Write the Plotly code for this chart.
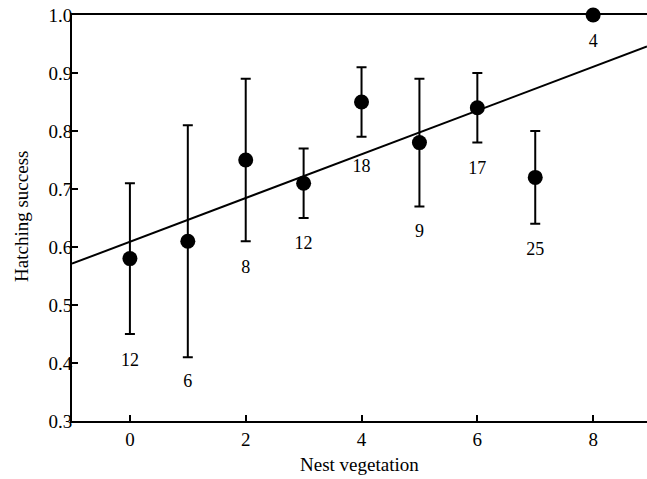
import plotly.graph_objects as go

veg = [0, 1, 2, 3, 4, 5, 6, 7, 8]
success = [0.58, 0.61, 0.75, 0.71, 0.85, 0.78, 0.84, 0.72, 1.00]
upper = [0.71, 0.81, 0.89, 0.77, 0.91, 0.89, 0.90, 0.80, 1.00]
lower = [0.45, 0.41, 0.61, 0.65, 0.79, 0.67, 0.78, 0.64, 1.00]
n_labels = ["12", "6", "8", "12", "18", "9", "17", "25", "4"]
label_y = [0.402, 0.367, 0.563, 0.605, 0.737, 0.625, 0.734, 0.594, 0.953]

fit_intercept = 0.609
fit_slope = 0.0377

x_range = [-1, 8.93]
y_range = [0.3, 1.0]

err_plus = [u - s for u, s in zip(upper, success)]
err_minus = [s - l for s, l in zip(success, lower)]

FONT = "Liberation Serif"

fig = go.Figure()

fig.add_trace(go.Scatter(
    x=x_range,
    y=[fit_intercept + fit_slope * x for x in x_range],
    mode="lines",
    line=dict(color="black", width=2),
    hoverinfo="skip",
))

fig.add_trace(go.Scatter(
    x=veg, y=success, mode="markers",
    marker=dict(color="black", size=15),
    error_y=dict(type="data", symmetric=False, array=err_plus, arrayminus=err_minus,
                 color="black", thickness=2, width=5),
    cliponaxis=False,
))

fig.add_trace(go.Scatter(
    x=veg, y=label_y, mode="text", text=n_labels,
    textfont=dict(family=FONT, size=18, color="black"),
    cliponaxis=False,
))

fig.add_annotation(text="Nest vegetation", xref="paper", yref="paper",
                   x=0.5, y=-0.108, xanchor="center", yanchor="middle",
                   showarrow=False, font=dict(family=FONT, size=19, color="black"))
fig.add_annotation(text="Hatching success", xref="paper", yref="paper",
                   x=-0.087, y=0.505, xanchor="center", yanchor="middle", textangle=-90,
                   showarrow=False, font=dict(family=FONT, size=19, color="black"))

fig.update_layout(
    width=647, height=479,
    margin=dict(l=72, r=0, t=15, b=58),
    paper_bgcolor="white", plot_bgcolor="white",
    showlegend=False,
    font=dict(family=FONT, color="black"),
    xaxis=dict(
        range=x_range, tickvals=[0, 2, 4, 6, 8], ticks="inside", ticklen=6,
        tickwidth=2, tickcolor="black", showline=True, linecolor="black", linewidth=2,
        mirror=True, showgrid=False, zeroline=False,
        tickfont=dict(size=19, family=FONT),
    ),
    yaxis=dict(
        range=y_range, tickvals=[0.3, 0.4, 0.5, 0.6, 0.7, 0.8, 0.9, 1.0],
        tickformat=".1f", ticks="inside", ticklen=6,
        tickwidth=2, tickcolor="black", showline=True, linecolor="black", linewidth=2,
        showgrid=False, zeroline=False, ticklabelstandoff=-6, ticklabeloverflow="allow",
        tickfont=dict(size=19, family=FONT),
    ),
)

fig.write_html(
    "out.html",
    config={"displayModeBar": False},
    post_script="document.body.style.margin='0';document.body.style.overflow='hidden';",
)
